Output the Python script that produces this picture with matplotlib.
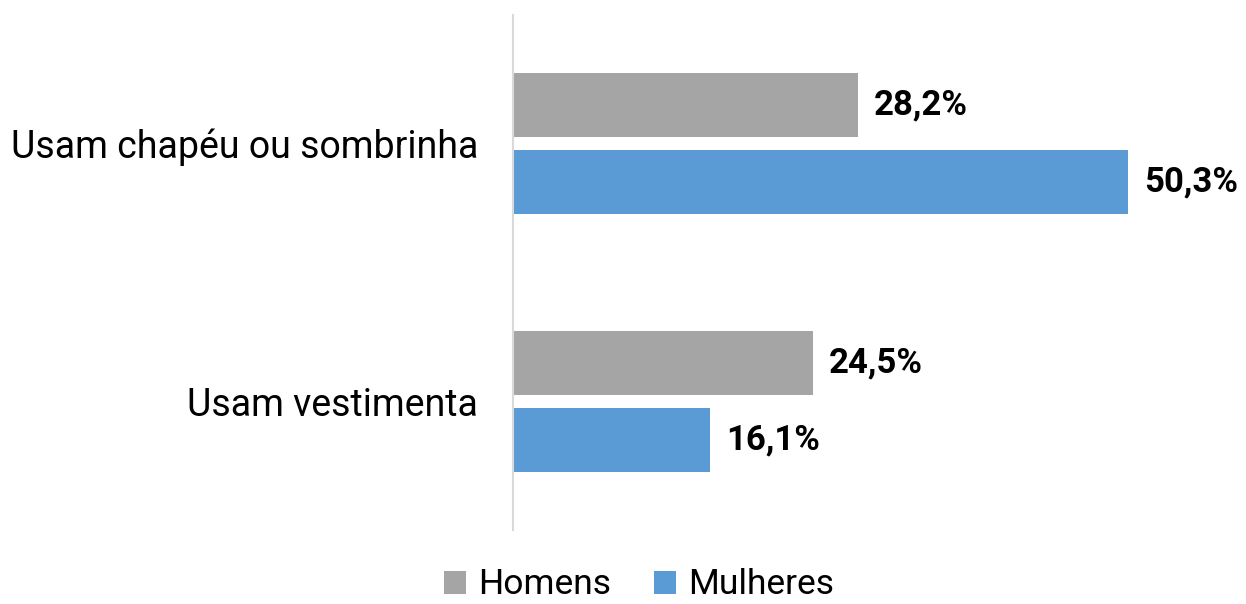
import matplotlib
matplotlib.use('Agg')
import matplotlib.pyplot as plt
import numpy as np

plt.rcParams['font.family'] = ['Roboto', 'DejaVu Sans']

CATEGORIES = ['Usam chapéu ou sombrinha', 'Usam vestimenta']
HOMENS = [28.2, 24.5]
MULHERES = [50.3, 16.1]
SERIES_LABELS = ['Homens', 'Mulheres']

COLOR_HOMENS = '#A5A5A5'
COLOR_MULHERES = '#5B9BD5'


def fmt(v):
    return f'{v:.1f}%'.replace('.', ',')


fig = plt.figure(figsize=(12.46, 6.04), dpi=100)
ax = fig.add_axes([513 / 1246, 1 - 530 / 604, (1240 - 513) / 1246, 515 / 604])

y = np.arange(len(CATEGORIES))
h = 0.248
off = 0.149

b1 = ax.barh(y - off, HOMENS, height=h, color=COLOR_HOMENS, label=SERIES_LABELS[0])
b2 = ax.barh(y + off, MULHERES, height=h, color=COLOR_MULHERES, label=SERIES_LABELS[1])

for bars, vals in [(b1, HOMENS), (b2, MULHERES)]:
    for bar, v in zip(bars, vals):
        ax.text(v + 1.3, bar.get_y() + bar.get_height() / 2, fmt(v),
                va='center', ha='left', fontsize=25, fontweight='bold', color='black')

ax.set_xlim(0, (1240 - 513) / 12.23)
ax.set_ylim(1.5, -0.5)
ax.set_yticks(y)
ax.set_yticklabels(CATEGORIES, fontsize=27)
ax.tick_params(axis='y', length=0, pad=25)
ax.set_xticks([])
for s in ['top', 'right', 'bottom']:
    ax.spines[s].set_visible(False)
ax.spines['left'].set_color('#D9D9D9')
ax.spines['left'].set_linewidth(1.5)

fig.legend(loc='center', bbox_to_anchor=(0.513, 1 - 585 / 604), ncol=2, frameon=False,
           fontsize=25.5, handlelength=0.62, handleheight=0.62, handletextpad=0.35,
           columnspacing=1.2, borderaxespad=0)

fig.savefig('out.png', dpi=100)
